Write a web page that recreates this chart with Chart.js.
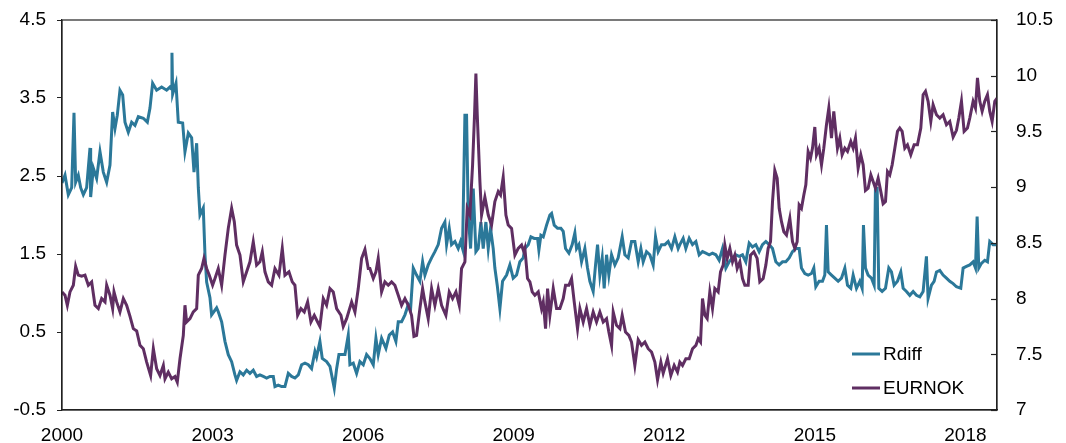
<!DOCTYPE html>
<html>
<head>
<meta charset="utf-8">
<script src="https://cdn.jsdelivr.net/npm/chart.js@4.4.1/dist/chart.umd.min.js"></script>
<style>
  html, body { margin: 0; padding: 0; background: #fff; }
  #wrap { width: 1066px; height: 443px; }
</style>
</head>
<body>
<div id="wrap"><canvas id="chart" width="1066" height="443"></canvas></div>
<script>
// ===== DATA =====
const rdiffDates = [2000.0,2000.06,2000.126,2000.193,2000.239,2000.272,2000.325,2000.372,2000.425,2000.491,2000.558,2000.571,2000.624,2000.69,2000.757,2000.823,2000.89,2000.956,2001.009,2001.056,2001.102,2001.155,2001.209,2001.255,2001.321,2001.388,2001.454,2001.521,2001.62,2001.7,2001.753,2001.806,2001.886,2001.985,2002.085,2002.151,2002.175,2002.191,2002.205,2002.271,2002.317,2002.404,2002.45,2002.517,2002.583,2002.63,2002.683,2002.716,2002.749,2002.815,2002.849,2002.882,2002.948,2002.981,2003.081,
  2003.114,2003.181,2003.247,2003.313,2003.38,2003.446,2003.479,2003.546,2003.612,2003.679,2003.745,2003.811,2003.878,2003.944,2004.011,2004.077,2004.143,2004.21,2004.243,2004.309,2004.376,2004.442,2004.509,2004.575,2004.641,2004.708,2004.774,2004.841,2004.907,2004.973,2005.04,2005.073,2005.139,2005.186,2005.272,2005.339,2005.425,2005.472,2005.518,2005.571,2005.638,2005.704,2005.737,2005.803,2005.87,2005.936,2006.003,2006.069,
  2006.135,2006.202,2006.255,2006.301,2006.368,2006.454,2006.521,2006.587,2006.653,2006.7,2006.766,2006.833,2006.899,2006.946,2006.999,2007.065,2007.131,2007.185,2007.231,2007.297,2007.364,2007.43,2007.497,2007.563,2007.629,2007.663,2007.716,2007.762,2007.829,2007.895,2007.942,2007.981,2008.028,2008.061,2008.094,2008.141,2008.194,2008.247,2008.293,2008.347,2008.393,2008.446,2008.493,2008.539,2008.592,2008.625,2008.672,2008.725,2008.778,2008.858,2008.924,2008.99,2009.057,2009.123,2009.19,
  2009.223,2009.29,2009.343,2009.41,2009.476,2009.502,2009.542,2009.589,2009.655,2009.721,2009.755,2009.808,2009.874,2009.94,2009.987,2010.033,2010.1,2010.166,2010.219,2010.252,2010.299,2010.352,2010.418,2010.471,2010.518,2010.584,2010.631,2010.671,2010.717,2010.764,2010.803,2010.85,2010.896,2010.95,2011.016,2011.082,2011.162,2011.215,2011.282,2011.348,2011.414,2011.481,2011.534,2011.58,2011.647,2011.713,2011.779,2011.826,2011.879,2011.945,2012.012,2012.078,2012.145,2012.211,2012.277,
  2012.311,2012.377,2012.43,2012.497,2012.563,2012.63,2012.696,2012.762,2012.829,2012.895,2012.961,2013.028,2013.094,2013.161,2013.227,2013.293,2013.36,2013.426,2013.493,2013.559,2013.625,2013.692,2013.758,2013.825,2013.891,2013.957,2014.024,2014.09,2014.157,2014.223,2014.289,2014.356,2014.422,2014.489,2014.555,2014.622,2014.688,2014.734,2014.801,2014.867,2014.934,2014.98,2015.02,2015.086,2015.153,2015.199,2015.232,2015.266,2015.332,
  2015.398,2015.465,2015.531,2015.598,2015.651,2015.717,2015.764,2015.83,2015.896,2015.943,2015.969,2016.009,2016.062,2016.129,2016.182,2016.208,2016.242,2016.275,2016.341,2016.408,2016.474,2016.527,2016.58,2016.647,2016.713,2016.76,2016.826,2016.892,2016.959,2017.025,2017.092,2017.158,2017.224,2017.257,2017.324,2017.377,2017.424,2017.49,2017.556,2017.623,2017.689,2017.756,2017.822,2017.908,2017.955,2018.021,2018.088,2018.154,2018.201,2018.234,2018.267,2018.32,2018.386,2018.44,2018.486,2018.552,2018.619];

const rdiffValues = [2.41,2.51,2.26,2.35,3.31,2.42,2.51,2.35,2.26,2.35,2.86,2.23,2.60,2.47,2.81,2.55,2.42,2.64,3.32,3.11,3.28,3.60,3.54,3.19,3.06,3.19,3.15,3.26,3.24,3.19,3.37,3.69,3.60,3.64,3.60,3.64,3.62,4.08,3.55,3.69,3.19,3.18,2.81,3.05,2.99,2.55,2.92,2.35,2.00,2.09,1.49,1.14,0.94,0.72,0.81,
  0.76,0.63,0.38,0.21,0.12,-0.05,-0.12,-0.01,-0.05,0.01,-0.03,0.01,-0.07,-0.05,-0.07,-0.09,-0.07,-0.07,-0.20,-0.18,-0.20,-0.20,-0.03,-0.07,-0.09,-0.05,0.08,0.10,0.08,0.03,0.25,0.18,0.38,0.16,0.12,0.06,-0.22,0.03,0.21,0.21,0.21,0.46,0.08,0.10,-0.03,0.12,0.08,0.21,
  0.16,0.08,0.42,0.21,0.42,0.29,0.46,0.50,0.38,0.63,0.63,0.72,0.85,0.80,1.32,1.23,1.15,1.40,1.23,1.36,1.45,1.53,1.62,1.83,1.91,1.62,1.83,1.62,1.66,1.57,1.66,1.57,3.28,3.28,2.00,1.57,2.34,1.53,1.57,1.91,1.57,1.91,1.57,1.83,1.57,1.32,1.10,0.80,1.15,1.23,1.36,1.19,1.23,1.40,1.45,
  1.57,1.62,1.72,1.70,1.70,1.55,1.74,1.72,1.87,2.00,2.02,1.87,1.83,1.83,1.79,1.57,1.51,1.62,1.77,1.57,1.62,1.40,1.57,1.32,1.15,1.02,1.36,1.62,1.23,1.45,1.06,1.49,1.23,1.49,1.36,1.45,1.72,1.49,1.45,1.66,1.66,1.40,1.57,1.40,1.53,1.49,1.36,1.72,1.53,1.62,1.62,1.66,1.57,1.72,1.57,
  1.62,1.70,1.57,1.70,1.62,1.66,1.49,1.53,1.51,1.49,1.51,1.49,1.42,1.57,1.32,1.40,1.45,1.49,1.47,1.49,1.40,1.64,1.59,1.62,1.53,1.62,1.66,1.62,1.57,1.40,1.36,1.40,1.40,1.45,1.53,1.57,1.57,1.32,1.25,1.23,1.25,1.32,1.08,1.15,1.15,1.23,1.87,1.27,1.23,
  1.19,1.15,1.19,1.32,1.10,1.06,1.23,1.06,1.15,1.06,1.87,1.32,1.23,1.19,1.10,2.34,2.34,1.06,1.02,1.06,1.32,1.27,1.10,1.15,1.27,1.06,1.02,0.97,1.02,0.97,0.95,1.02,1.47,0.93,1.10,1.15,1.27,1.29,1.23,1.19,1.15,1.12,1.08,1.06,1.32,1.34,1.36,1.40,1.32,1.98,1.32,1.38,1.42,1.40,1.66,1.62,1.62];

const eurnokDates = [2000.0,2000.06,2000.106,2000.159,2000.226,2000.272,2000.325,2000.392,2000.458,2000.525,2000.591,2000.657,2000.724,2000.79,2000.857,2000.89,2000.956,2001.009,2001.036,2001.089,2001.155,2001.222,2001.288,2001.355,2001.421,2001.488,2001.554,2001.62,2001.687,2001.766,2001.82,2001.886,2001.952,2002.019,2002.052,2002.118,2002.185,2002.251,2002.297,2002.351,2002.417,2002.45,2002.483,2002.55,2002.616,2002.683,2002.716,2002.782,2002.829,2002.882,2002.935,2003.001,
  2003.048,2003.114,2003.181,2003.247,2003.313,2003.38,2003.433,2003.479,2003.546,2003.612,2003.679,2003.745,2003.811,2003.878,2003.944,2003.991,2004.044,2004.11,2004.177,2004.243,2004.323,2004.389,2004.442,2004.522,2004.588,2004.641,2004.695,2004.761,2004.827,2004.894,2004.96,2005.027,2005.093,2005.139,2005.206,2005.272,2005.339,2005.405,2005.472,2005.558,2005.604,2005.671,2005.771,2005.837,2005.903,2005.97,2006.036,2006.102,
  2006.135,2006.202,2006.255,2006.301,2006.368,2006.434,2006.501,2006.567,2006.633,2006.7,2006.766,2006.833,2006.899,2006.965,2007.012,2007.065,2007.131,2007.185,2007.231,2007.297,2007.364,2007.43,2007.497,2007.563,2007.649,2007.716,2007.782,2007.849,2007.915,2007.961,2008.028,2008.074,2008.127,2008.181,2008.22,2008.247,2008.274,2008.327,2008.36,2008.426,2008.493,2008.559,2008.625,2008.692,2008.738,2008.791,2008.845,2008.891,2008.958,2009.024,2009.09,2009.157,2009.203,
  2009.223,2009.276,2009.323,2009.369,2009.422,2009.489,2009.555,2009.589,2009.635,2009.675,2009.721,2009.788,2009.854,2009.92,2009.987,2010.033,2010.1,2010.153,2010.206,2010.272,2010.319,2010.385,2010.452,2010.518,2010.584,2010.651,2010.717,2010.784,2010.85,2010.896,2010.95,2010.983,2011.049,2011.116,2011.162,2011.228,2011.295,2011.348,2011.414,2011.481,2011.547,2011.614,2011.68,2011.747,2011.813,2011.866,2011.932,2011.979,2012.065,2012.131,2012.198,2012.264,
  2012.311,2012.364,2012.43,2012.497,2012.563,2012.63,2012.676,2012.723,2012.762,2012.809,2012.855,2012.908,2012.961,2013.008,2013.074,2013.121,2013.174,2013.207,2013.254,2013.307,2013.36,2013.406,2013.453,2013.506,2013.559,2013.606,2013.672,2013.719,2013.785,2013.851,2013.904,2013.971,2014.024,2014.07,2014.117,2014.157,2014.203,2014.25,2014.29,2014.336,2014.383,2014.436,2014.502,2014.555,2014.602,2014.648,2014.688,2014.734,2014.781,2014.821,2014.867,2014.914,2014.954,2015.0,2015.033,2015.086,2015.133,2015.179,2015.232,2015.279,2015.332,2015.378,
  2015.451,2015.498,2015.544,2015.598,2015.651,2015.717,2015.764,2015.81,2015.863,2015.916,2015.963,2016.009,2016.062,2016.116,2016.162,2016.208,2016.262,2016.315,2016.361,2016.408,2016.448,2016.494,2016.541,2016.594,2016.647,2016.693,2016.74,2016.793,2016.846,2016.912,2016.979,2017.045,2017.112,2017.158,2017.205,2017.257,2017.311,2017.357,2017.424,2017.49,2017.556,2017.623,2017.689,2017.756,2017.822,2017.869,2017.922,2017.975,2018.041,2018.088,2018.154,2018.201,2018.241,2018.287,2018.334,2018.386,2018.44,2018.486,2018.533,2018.586,2018.632];

const eurnokValues = [8.06,8.03,7.94,8.06,8.12,8.29,8.21,8.20,8.21,8.12,8.15,7.94,7.91,8.00,7.97,8.12,8.03,7.91,8.06,7.97,7.88,8.00,7.94,7.84,7.73,7.71,7.58,7.55,7.43,7.31,7.55,7.37,7.31,7.40,7.28,7.34,7.28,7.30,7.25,7.46,7.67,7.94,7.79,7.82,7.88,7.91,8.21,8.27,8.36,8.27,8.21,8.12,
  8.18,8.27,8.12,8.39,8.63,8.81,8.69,8.48,8.39,8.15,8.24,8.33,8.51,8.30,8.33,8.42,8.24,8.15,8.12,8.27,8.21,8.45,8.21,8.24,8.15,8.12,7.85,7.91,7.88,7.97,7.79,7.85,7.79,7.75,8.00,7.94,8.09,8.06,7.91,7.85,7.75,7.82,7.97,7.88,8.09,8.36,8.44,8.27,
  8.27,8.18,8.24,8.36,8.06,8.15,8.12,8.15,8.12,8.03,7.94,8.00,7.94,7.85,7.66,7.67,7.91,8.09,7.97,7.82,8.09,7.94,8.09,7.94,7.85,8.06,8.00,8.06,7.94,8.27,8.33,8.81,8.75,9.20,9.65,10.02,9.65,9.05,8.75,8.91,8.75,8.66,8.87,8.96,8.93,9.09,8.75,8.66,8.63,8.39,8.45,8.48,8.42,
  8.45,8.18,8.15,8.06,8.03,8.06,7.91,7.97,7.73,8.09,7.85,8.09,7.91,7.91,8.00,8.12,8.12,8.18,7.97,7.73,7.91,7.79,7.91,7.76,7.88,7.79,7.88,7.79,7.82,7.70,7.58,7.88,7.76,7.73,7.85,7.70,7.67,7.61,7.40,7.63,7.58,7.61,7.55,7.52,7.43,7.27,7.43,7.33,7.46,7.31,7.40,7.34,
  7.43,7.40,7.46,7.46,7.55,7.58,7.64,7.61,8.00,7.85,7.82,8.06,7.91,8.09,8.06,8.24,8.30,8.48,8.36,8.45,8.33,8.39,8.27,8.33,8.18,8.12,8.12,8.39,8.42,8.36,8.15,8.18,8.30,8.45,8.51,8.87,9.15,9.08,8.81,8.69,8.60,8.57,8.72,8.51,8.45,8.51,8.84,8.81,8.93,9.02,9.32,9.26,9.35,9.54,9.29,9.35,9.20,9.35,9.56,9.71,9.44,9.68,
  9.35,9.44,9.29,9.35,9.32,9.41,9.35,9.44,9.17,9.29,9.20,8.97,8.99,9.11,9.05,8.99,9.08,8.96,8.85,8.87,9.14,9.11,9.20,9.35,9.50,9.53,9.50,9.35,9.38,9.29,9.38,9.38,9.53,9.83,9.86,9.77,9.59,9.74,9.65,9.62,9.65,9.56,9.59,9.45,9.51,9.62,9.77,9.50,9.53,9.62,9.77,9.71,9.98,9.77,9.68,9.77,9.83,9.68,9.59,9.77,9.80];

const xTicks = [2000, 2003, 2006, 2009, 2012, 2015, 2018];
const leftTicks = [-0.5, 0.5, 1.5, 2.5, 3.5, 4.5];
const rightTicks = [7, 7.5, 8, 8.5, 9, 9.5, 10, 10.5];

// ===== STYLE =====
const fontFamily = "'Liberation Sans', Arial, sans-serif";
const fontSize = 19;
const blue = '#2b7899';
const purple = '#5f2e62';

function toPoints(dates, values) {
    return dates.map((d, i) => ({ x: d, y: values[i] }));
}

// fixed axis sizes, no extra label padding above/below the plot
function fitVertical(width) {
    return s => { s.width = width; s.paddingTop = 0; s.paddingBottom = 0; };
}

// box around the plot, inward ticks on the right axis
const frame = {
    id: 'frame',
    afterDraw(chart) {
        const { ctx, chartArea: a } = chart;
        ctx.save();
        ctx.strokeStyle = '#222';
        ctx.lineWidth = 1.2;
        ctx.strokeRect(a.left, a.top, a.right - a.left, a.bottom - a.top);
        const y1 = chart.scales.y1;
        y1.ticks.forEach(t => {
            const py = Math.round(y1.getPixelForValue(t.value)) + 0.5;
            ctx.beginPath();
            ctx.moveTo(a.right - 6, py);
            ctx.lineTo(a.right, py);
            ctx.stroke();
        });
        ctx.restore();
    }
};

// legend inside the plot, lower right
const legendBox = {
    id: 'legendBox',
    afterDatasetsDraw(chart) {
        const { ctx, chartArea: a } = chart;
        const rows = [chart.data.datasets[0], chart.data.datasets[1]];
        ctx.save();
        ctx.font = fontSize + 'px ' + fontFamily;
        ctx.textBaseline = 'middle';
        ctx.fillStyle = '#000';
        rows.forEach((ds, i) => {
            const y = a.bottom - 56 + i * 34;
            ctx.strokeStyle = ds.borderColor;
            ctx.lineWidth = 3;
            ctx.beginPath();
            ctx.moveTo(a.right - 145, y);
            ctx.lineTo(a.right - 117, y);
            ctx.stroke();
            ctx.fillText(ds.label, a.right - 114, y + 1);
        });
        ctx.restore();
    }
};

const ctx = document.getElementById('chart').getContext('2d');
new Chart(ctx, {
    type: 'line',
    data: {
        datasets: [
            { label: 'Rdiff', data: toPoints(rdiffDates, rdiffValues), yAxisID: 'y',
              borderColor: blue, borderWidth: 3, pointRadius: 0, tension: 0, order: 1 },
            { label: 'EURNOK', data: toPoints(eurnokDates, eurnokValues), yAxisID: 'y1',
              borderColor: purple, borderWidth: 3, pointRadius: 0, tension: 0, order: 0 }
        ]
    },
    options: {
        responsive: false,
        animation: false,
        layout: { padding: { top: 20, left: 0, right: 0, bottom: 0 } },
        plugins: { legend: { display: false }, tooltip: { enabled: false } },
        scales: {
            x: {
                type: 'linear', min: 2000, max: 2018.63,
                afterBuildTicks: s => { s.ticks = xTicks.map(v => ({ value: v })); },
                afterFit: s => { s.height = 33; },
                grid: { display: false, drawTicks: false },
                border: { display: true, color: '#222', width: 1.2 },
                ticks: { color: '#000', padding: 14, maxRotation: 0, autoSkip: false,
                         font: { family: fontFamily, size: fontSize },
                         callback: v => String(v) }
            },
            y: {
                position: 'left', min: -0.5, max: 4.5,
                afterBuildTicks: s => { s.ticks = leftTicks.map(v => ({ value: v })); },
                afterFit: fitVertical(62),
                grid: { drawOnChartArea: false, drawTicks: true, tickLength: 5, color: '#222' },
                border: { display: true, color: '#222', width: 1.2 },
                ticks: { color: '#000', padding: 11, font: { family: fontFamily, size: fontSize },
                         callback: v => String(v) }
            },
            y1: {
                position: 'right', min: 7, max: 10.5,
                afterBuildTicks: s => { s.ticks = rightTicks.map(v => ({ value: v })); },
                afterFit: fitVertical(69),
                grid: { drawOnChartArea: false, drawTicks: false },
                border: { display: true, color: '#222', width: 1.2 },
                ticks: { color: '#000', padding: 19, font: { family: fontFamily, size: fontSize },
                         callback: v => String(v) }
            }
        }
    },
    plugins: [frame, legendBox]
});
</script>
</body>
</html>
